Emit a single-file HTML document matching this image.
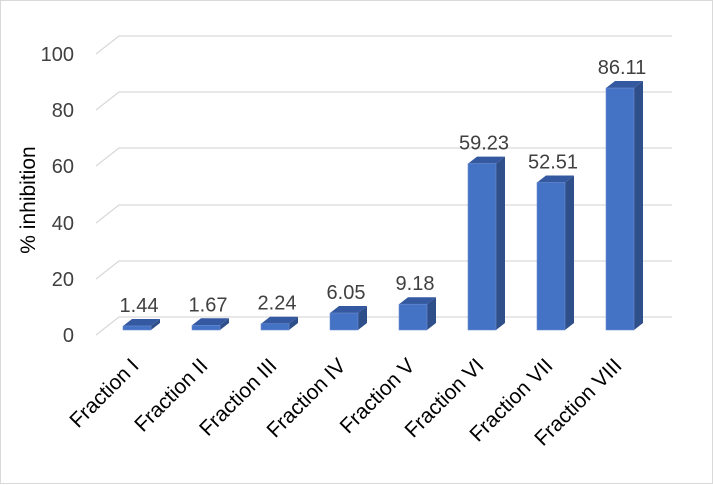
<!DOCTYPE html>
<html><head><meta charset="utf-8"><style>
html,body{margin:0;padding:0;background:#fff}
svg{display:block;font-family:"Liberation Sans",sans-serif}
</style></head><body>
<svg width="713" height="485" viewBox="0 0 713 485" xmlns="http://www.w3.org/2000/svg">
<rect x="0.5" y="0.5" width="712" height="483" fill="#fff" stroke="#d9d9d9"/>
<g stroke="#d9d9d9" stroke-width="1.3" fill="none">
<path d="M96 54 L119 36 H672"/>
<path d="M96 110 L119 92 H672"/>
<path d="M96 166 L119 148 H672"/>
<path d="M96 223 L119 205 H672"/>
<path d="M96 279 L119 261 H672"/>
<path d="M96 335 L119 317 H672"/>
</g>
<g font-size="20" fill="#404040" text-anchor="end">
<text x="74" y="61">100</text>
<text x="74" y="117">80</text>
<text x="74" y="173">60</text>
<text x="74" y="230">40</text>
<text x="74" y="286">20</text>
<text x="74" y="342">0</text>
</g>
<text transform="translate(35,200) rotate(-90)" font-size="21" fill="#000" text-anchor="middle">% inhibition</text>
<g id="bars"></g>
<g id="labels" font-size="20" fill="#404040" text-anchor="middle"></g>
<g id="xl" font-size="21" fill="#000" text-anchor="end"></g>
<script>
var vals=[1.44,1.67,2.24,6.05,9.18,59.23,52.51,86.11];
var names=["Fraction I","Fraction II","Fraction III","Fraction IV","Fraction V","Fraction VI","Fraction VII","Fraction VIII"];
var ns="http://www.w3.org/2000/svg",b=document.getElementById('bars'),l=document.getElementById('labels'),xl=document.getElementById('xl');
function el(t,a,p){var e=document.createElementNS(ns,t);for(var k in a)e.setAttribute(k,a[k]);p.appendChild(e);return e;}
vals.forEach(function(v,i){
 var c=137+69*i,x0=c-14,x1=c+14,yb=330,yt=330-2.81*v,dx=9,dy=7;
 el('polygon',{points:[x1,yb,x1+dx,yb-dy,x1+dx,yt-dy,x1,yt].join(' '),fill:'#2f4f8a'},b);
 el('polygon',{points:[x0,yt,x0+dx,yt-dy,x1+dx,yt-dy,x1,yt].join(' '),fill:'#3559a0'},b);
 el('rect',{x:x0,y:yt,width:28,height:yb-yt,fill:'#4472c4',stroke:'#6f8fd0','stroke-width':0.6},b);
 var t=el('text',{x:c+2,y:yt-14},l);t.textContent=v.toFixed(2);
 var ax=c+3,ay=367;
 var s=el('text',{x:ax,y:ay,transform:'rotate(-45 '+ax+' '+ay+')'},xl);s.textContent=names[i];
});
</script>
</svg>
</body></html>
